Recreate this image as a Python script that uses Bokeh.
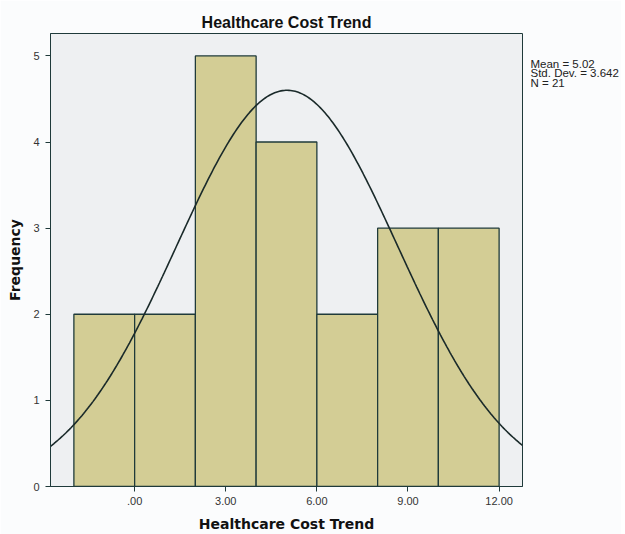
from bokeh.plotting import figure
from bokeh.models import Range1d, FixedTicker, LinearAxis
from bokeh.embed import file_html
from bokeh.resources import INLINE
import numpy as np

# Data
bin_left = [-2, 0, 2, 4, 6, 8, 10]
bin_right = [0, 2, 4, 6, 8, 10, 12]
counts = [2, 2, 5, 4, 2, 3, 3]
x_ticks = [0, 3, 6, 9, 12]
x_tick_labels = [".00", "3.00", "6.00", "9.00", "12.00"]
y_ticks = [0, 1, 2, 3, 4, 5]
mean_val = 5.02
sd_val = 3.642
n_val = 21
bin_width = 2
stats_text = ["Mean = 5.02", "Std. Dev. = 3.642", "N = 21"]
stats_y = [4.91, 4.80, 4.69]

p = figure(width=621, height=534, output_backend="svg", toolbar_location=None,
           x_range=Range1d(-2.77, 12.77), y_range=Range1d(0, 5.26),
           min_border_left=50, min_border_right=98, min_border_top=33, min_border_bottom=47)

p.background_fill_color = "#EEF0F2"
p.border_fill_color = "#FBFCFD"
p.outline_line_color = "#1F3A3A"
p.outline_line_width = 1
p.grid.visible = False

p.title.text = "Healthcare Cost Trend"
p.title.align = "center"
p.title.text_font = "Liberation Sans"
p.title.text_font_size = "16px"
p.title.text_font_style = "bold"
p.title.text_color = "#111111"
p.title.offset = 0
p.title.standoff = 5

p.quad(left=bin_left, right=bin_right, bottom=0, top=counts,
       fill_color="#D3CD95", line_color="#1F3A3A", line_width=1.3)

xs = np.linspace(-2.77, 12.77, 300)
ys = n_val * bin_width / (sd_val * np.sqrt(2 * np.pi)) * np.exp(-0.5 * ((xs - mean_val) / sd_val) ** 2)
p.line(xs, ys, line_color="#1A2A2A", line_width=1.6)

p.xaxis.ticker = FixedTicker(ticks=x_ticks)
p.xaxis.major_label_overrides = {t: l for t, l in zip(x_ticks, x_tick_labels)}
p.yaxis.ticker = FixedTicker(ticks=y_ticks)
for ax in (p.xaxis, p.yaxis):
    ax.minor_tick_line_color = None
    ax.major_tick_in = 0
    ax.major_tick_out = 5
    ax.major_tick_line_color = "#1F3A3A"
    ax.axis_line_color = "#1F3A3A"
    ax.major_label_text_font = "Liberation Sans"
    ax.major_label_text_font_size = "11px"
    ax.major_label_text_color = "#333333"
    ax.axis_label_text_font = "DejaVu Sans"
    ax.axis_label_text_font_size = "14px"
    ax.axis_label_text_font_style = "bold"
    ax.axis_label_text_color = "#111111"
p.xaxis.axis_label = "Healthcare Cost Trend"
p.yaxis.axis_label = "Frequency"
p.xaxis.major_label_standoff = 5
p.xaxis.axis_label_standoff = 8
p.yaxis.major_label_standoff = 6
p.yaxis.axis_label_standoff = 7
p.yaxis.major_label_orientation = "horizontal"

# Statistics box text on the right (as tick labels of an unstyled right axis)
stats_axis = LinearAxis(ticker=FixedTicker(ticks=stats_y),
                        major_label_overrides={y: t for y, t in zip(stats_y, stats_text)})
stats_axis.axis_line_color = None
stats_axis.major_tick_line_color = None
stats_axis.minor_tick_line_color = None
stats_axis.major_tick_in = 0
stats_axis.major_tick_out = 0
stats_axis.major_label_standoff = 8
stats_axis.major_label_text_font = "Liberation Sans"
stats_axis.major_label_text_font_size = "11.5px"
stats_axis.major_label_text_color = "#222222"
p.add_layout(stats_axis, "right")

open("out.html", "w").write(file_html(p, INLINE))
